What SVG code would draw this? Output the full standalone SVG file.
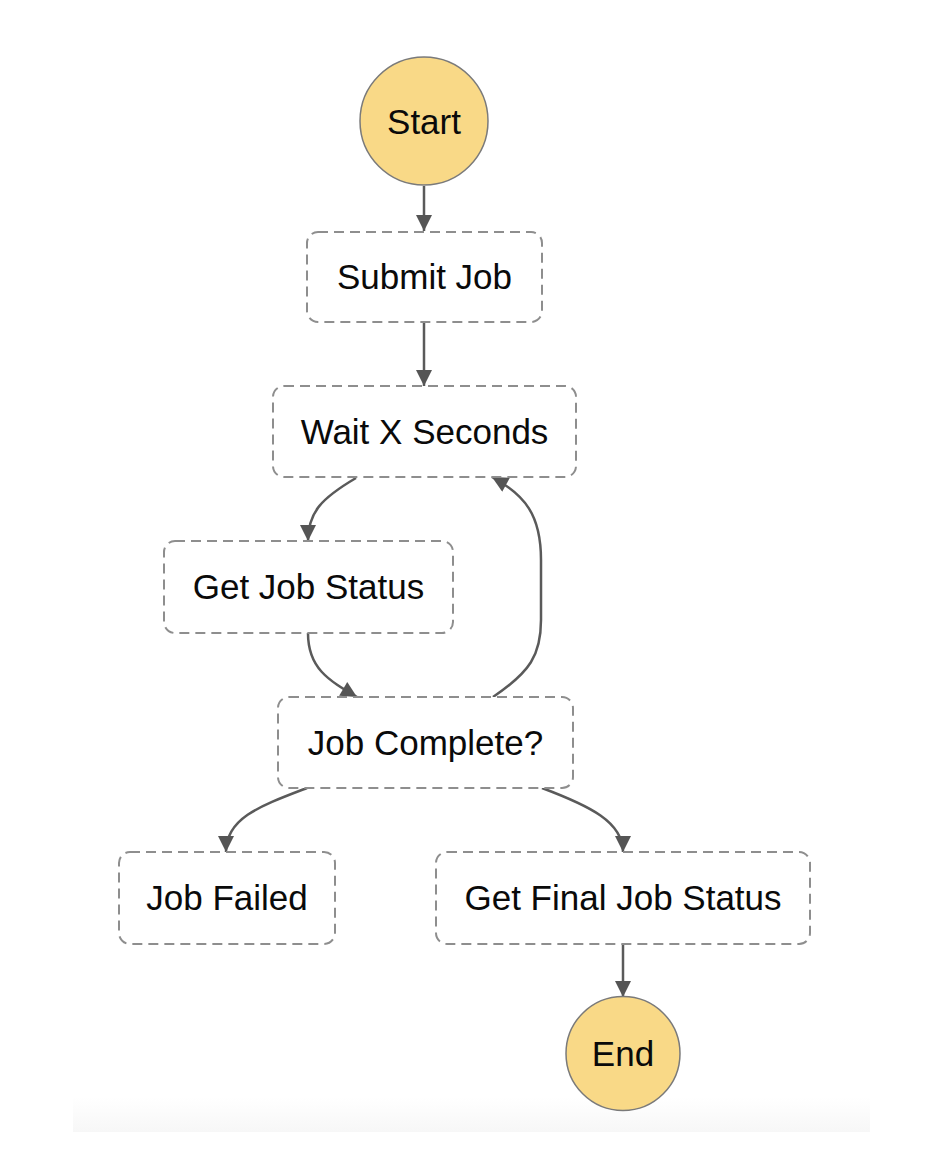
<svg xmlns="http://www.w3.org/2000/svg" width="932" height="1164" viewBox="0 0 932 1164">
  <style>
    .term { fill: #f9d987; stroke: #7a7a7a; stroke-width: 1.5; }
    .state { fill: #ffffff; stroke: #8e8e8e; stroke-width: 2; stroke-dasharray: 10 6; }
    .lbl { font-family: "Liberation Sans", Arial, Helvetica, sans-serif; font-size: 35px; fill: #0a0a0a; text-anchor: middle; }
    .edge { fill: none; stroke: #5a5a5a; stroke-width: 2.5; marker-end: url(#arrow); }
  </style>
  <defs>
    <marker id="arrow" viewBox="0 0 10 10" refX="10" refY="5" markerUnits="userSpaceOnUse" markerWidth="17" markerHeight="16" orient="auto">
      <path d="M0,0 L10,5 L0,10 z" fill="#555555"/>
    </marker>
    <linearGradient id="band" x1="0" y1="0" x2="0" y2="1">
      <stop offset="0" stop-color="#ffffff"/>
      <stop offset="1" stop-color="#f7f7f7"/>
    </linearGradient>
  </defs>
  <rect width="932" height="1164" fill="#ffffff"/>
  <rect x="73" y="1097" width="797" height="35" fill="url(#band)"/>

  <g id="connectors">
    <path class="edge" d="M424,186 L424,231"/>
    <path class="edge" d="M424,322 L424,386"/>
    <path class="edge" d="M356,478 C322,498 308,512 308,541"/>
    <path class="edge" d="M308,633 C308,668 328,680 357,697"/>
    <path class="edge" d="M493,697 C530,672 541,655 541,620 L541,560 C541,515 525,495 492,477"/>
    <path class="edge" d="M307,788 C260,806 226,818 226,852"/>
    <path class="edge" d="M542,788 C590,806 623,822 623,852"/>
    <path class="edge" d="M623,944 L623,997"/>
  </g>

  <g id="start">
    <circle class="term" cx="424" cy="121" r="64"/>
    <text class="lbl" x="424" y="133.5">Start</text>
  </g>
  <g id="submit-job">
    <rect class="state" x="307" y="232" width="235" height="90" rx="11"/>
    <text class="lbl" x="424.5" y="289">Submit Job</text>
  </g>
  <g id="wait-x-seconds">
    <rect class="state" x="273" y="386" width="303" height="91" rx="11"/>
    <text class="lbl" x="424.5" y="444">Wait X Seconds</text>
  </g>
  <g id="get-job-status">
    <rect class="state" x="164" y="541" width="289" height="92" rx="11"/>
    <text class="lbl" x="308.5" y="599">Get Job Status</text>
  </g>
  <g id="job-complete">
    <rect class="state" x="278" y="697" width="295" height="91" rx="11"/>
    <text class="lbl" x="425.5" y="755">Job Complete?</text>
  </g>
  <g id="job-failed">
    <rect class="state" x="119" y="852" width="216" height="92" rx="11"/>
    <text class="lbl" x="227" y="910">Job Failed</text>
  </g>
  <g id="get-final-job-status">
    <rect class="state" x="436" y="852" width="374" height="92" rx="11"/>
    <text class="lbl" x="623" y="910">Get Final Job Status</text>
  </g>
  <g id="end">
    <circle class="term" cx="623" cy="1053.5" r="57"/>
    <text class="lbl" x="623" y="1066">End</text>
  </g>
</svg>
